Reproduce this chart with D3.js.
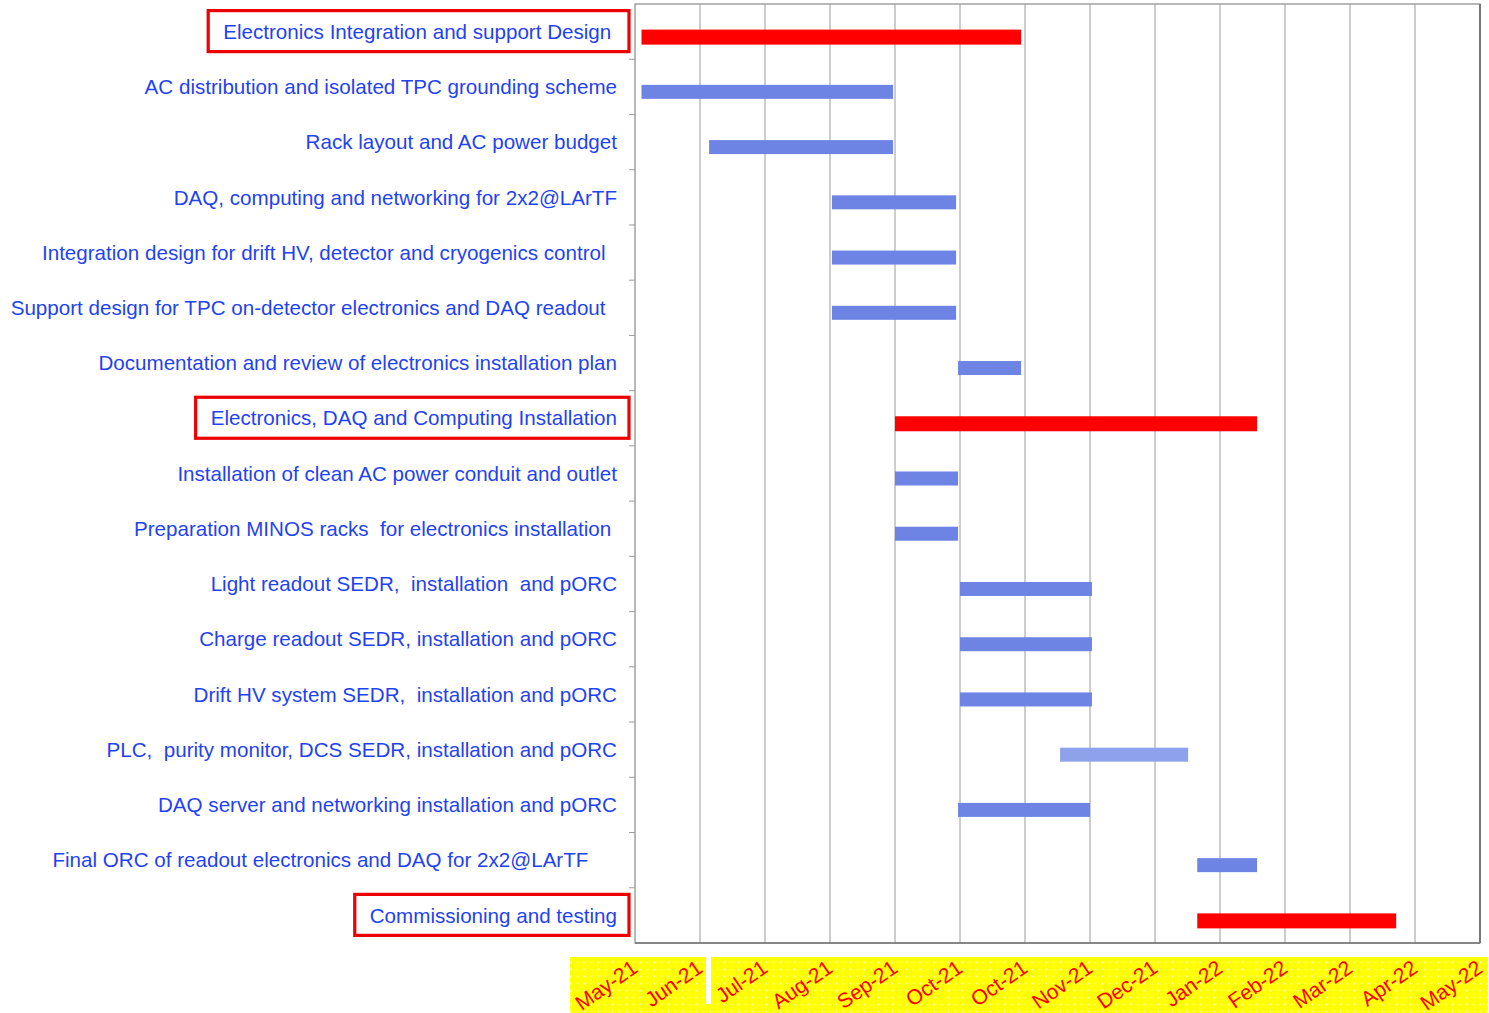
<!DOCTYPE html>
<html>
<head>
<meta charset="utf-8">
<script src="https://cdn.jsdelivr.net/npm/d3@7"></script>
<style>
  body { margin: 0; background: #fff; }
  text { font-family: "Liberation Sans", Arial, sans-serif; }
</style>
</head>
<body>
<div id="chart"></div>
<script>
// task names (trailing spaces kept as in the original slide)
var tasks = [
  "Electronics Integration and support Design ",
  "AC distribution and isolated TPC grounding scheme",
  "Rack layout and AC power budget",
  "DAQ, computing and networking for 2x2@LArTF",
  "Integration design for drift HV, detector and cryogenics control  ",
  "Support design for TPC on-detector electronics and DAQ readout  ",
  "Documentation and review of electronics installation plan",
  "Electronics, DAQ and Computing Installation",
  "Installation of clean AC power conduit and outlet",
  "Preparation MINOS racks  for electronics installation ",
  "Light readout SEDR,  installation  and pORC",
  "Charge readout SEDR, installation and pORC",
  "Drift HV system SEDR,  installation and pORC",
  "PLC,  purity monitor, DCS SEDR, installation and pORC",
  "DAQ server and networking installation and pORC",
  "Final ORC of readout electronics and DAQ for 2x2@LArTF     ",
  "Commissioning and testing"
];
// start / end in months from May-21
var starts = [0.1, 0.1, 1.14, 3.03, 3.03, 3.03, 4.97, 4.0, 4.0, 4.0, 5.0, 5.0, 5.0, 6.54, 4.97, 8.65, 8.65];
var ends   = [5.94, 3.97, 3.97, 4.94, 4.94, 4.94, 5.94, 9.57, 4.97, 4.97, 7.03, 7.03, 7.03, 8.51, 7.0, 9.57, 11.71];
// "main" = summary task (red, boxed), "sub" = regular, "light" = lighter bar
var kinds = ["main", "sub", "sub", "sub", "sub", "sub", "sub", "main", "sub", "sub", "sub", "sub", "sub", "light", "sub", "sub", "main"];
var months = ["May-21", "Jun-21", "Jul-21", "Aug-21", "Sep-21", "Oct-21", "Oct-21", "Nov-21", "Dec-21",
              "Jan-22", "Feb-22", "Mar-22", "Apr-22", "May-22"];

var W = 1489, H = 1013;
var pLeft = 635, pRight = 1480, pTop = 4, pBottom = 943;

var svg = d3.select("#chart").append("svg").attr("width", W).attr("height", H);

var x = d3.scaleLinear().domain([0, 13]).range([pLeft, pRight]);
var y = d3.scaleBand().domain(d3.range(tasks.length)).range([pTop, pBottom]);

// dotted yellow pattern for the date strip
var defs = svg.append("defs");
var pat = defs.append("pattern").attr("id", "dots").attr("patternUnits", "userSpaceOnUse")
  .attr("width", 7).attr("height", 7);
pat.append("rect").attr("width", 7).attr("height", 7).attr("fill", "#ffff00");
pat.append("circle").attr("cx", 3.5).attr("cy", 3.5).attr("r", 0.9).attr("fill", "#ffffb0");

var blur = defs.append("filter").attr("id", "soft");
blur.append("feGaussianBlur").attr("stdDeviation", 0.6);

// plot frame
svg.append("rect").attr("x", pLeft).attr("y", pTop).attr("width", pRight - pLeft).attr("height", pBottom - pTop)
  .attr("fill", "#fff").attr("stroke", "#8a8a8a").attr("stroke-width", 1.2);

// vertical grid
svg.selectAll("line.grid").data(d3.range(1, 13)).enter().append("line")
  .attr("class", "grid")
  .attr("x1", function (d) { return x(d); }).attr("x2", function (d) { return x(d); })
  .attr("y1", pTop).attr("y2", pBottom)
  .attr("stroke", "#9a9a9a").attr("stroke-width", 1);

// y ticks at row borders
svg.selectAll("line.ytick").data(d3.range(1, tasks.length)).enter().append("line")
  .attr("class", "ytick")
  .attr("x1", pLeft - 6).attr("x2", pLeft)
  .attr("y1", function (d) { return pTop + d * y.step(); })
  .attr("y2", function (d) { return pTop + d * y.step(); })
  .attr("stroke", "#9a9a9a");

// right / bottom border darker
svg.append("line").attr("x1", pRight).attr("x2", pRight).attr("y1", pTop).attr("y2", pBottom)
  .attr("stroke", "#777").attr("stroke-width", 2);
svg.append("line").attr("x1", pLeft).attr("x2", pRight).attr("y1", pBottom).attr("y2", pBottom)
  .attr("stroke", "#777").attr("stroke-width", 1.5);

// bars
var barColor = { main: "#ff0000", sub: "#6d84e4", light: "#8ea2ec" };
svg.selectAll("rect.bar").data(tasks).enter().append("rect")
  .attr("class", "bar")
  .attr("x", function (d, i) { return x(starts[i]); })
  .attr("width", function (d, i) { return x(ends[i]) - x(starts[i]); })
  .attr("y", function (d, i) { return y(i) + y.bandwidth() / 2 - 2; })
  .attr("height", function (d, i) { return kinds[i] === "main" ? 15 : 14; })
  .attr("fill", function (d, i) { return barColor[kinds[i]]; })
  .attr("filter", "url(#soft)");

// task labels
var labels = svg.selectAll("text.task").data(tasks).enter().append("text")
  .attr("class", "task")
  .attr("x", 617)
  .attr("y", function (d, i) { return y(i) + y.bandwidth() / 2; })
  .attr("dy", "0.35em")
  .attr("text-anchor", "end")
  .style("white-space", "pre")
  .attr("font-size", 20.6)
  .attr("fill", "#1f43f3")
  .text(function (d) { return d; });

// red boxes around the summary tasks
labels.each(function (d, i) {
  if (kinds[i] !== "main") return;
  var bb = this.getBBox();
  svg.append("rect")
    .attr("x", bb.x - 15).attr("y", y(i) + y.bandwidth() / 2 - 21)
    .attr("width", bb.width + 27).attr("height", 41)
    .attr("fill", "none").attr("stroke", "#ee0000").attr("stroke-width", 3.2);
});

// date strip
svg.append("rect").attr("x", 570).attr("y", 957).attr("width", 918).attr("height", 56)
  .attr("fill", "url(#dots)");
svg.append("rect").attr("x", 706).attr("y", 957).attr("width", 5).attr("height", 47).attr("fill", "#fff");

svg.selectAll("text.month").data(months).enter().append("text")
  .attr("class", "month")
  .attr("transform", function (d, i) { return "translate(" + (x(i) + 4) + ",971) rotate(-35)"; })
  .attr("text-anchor", "end")
  .attr("font-size", 21)
  .attr("fill", "#ff0000")
  .text(function (d) { return d; });
</script>
</body>
</html>
